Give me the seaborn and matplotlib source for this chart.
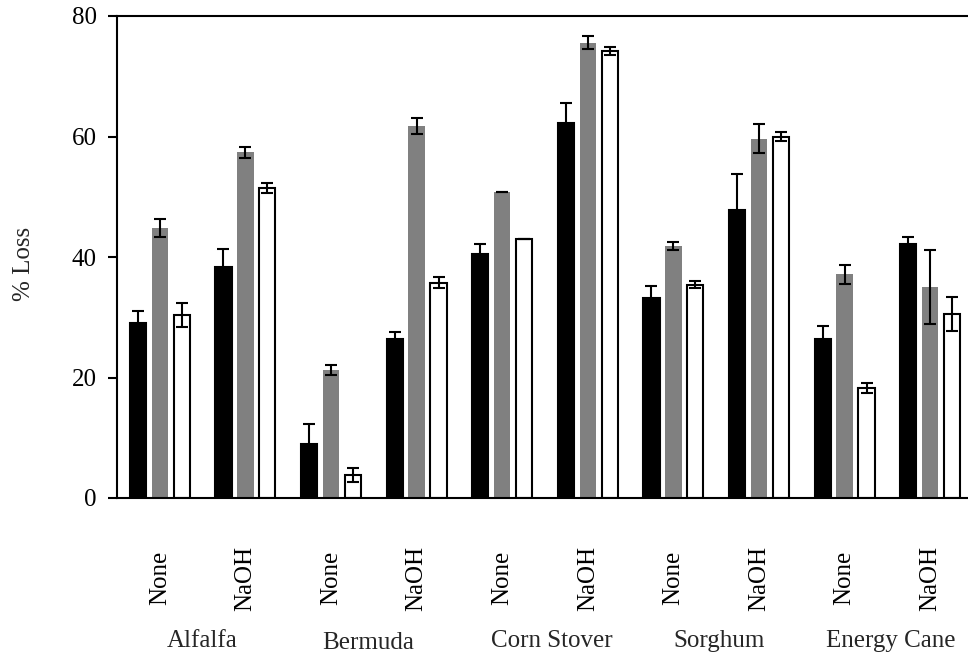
import matplotlib
matplotlib.use("Agg")
import matplotlib.pyplot as plt
import matplotlib.transforms as mtransforms
import pandas as pd
import seaborn as sns

# Feedstocks and pretreatments along the x axis
crops = ["Alfalfa", "Bermuda", "Corn Stover", "Sorghum", "Energy Cane"]
treatments = ["None", "NaOH"]
series = ["Series 1", "Series 2", "Series 3"]
series_colors = ["#000000", "#808080", "#ffffff"]

# % loss per crop/pretreatment, ordered Alfalfa None, Alfalfa NaOH, Bermuda None, ...
loss_s1 = [29.0, 38.4, 9.0, 26.4, 40.5, 62.2, 33.2, 47.8, 26.4, 42.2]
err_s1 = [2.0, 2.9, 3.3, 1.2, 1.6, 3.3, 2.0, 5.9, 2.1, 1.1]
loss_s2 = [44.8, 57.4, 21.2, 61.7, 50.8, 75.6, 41.8, 59.6, 37.1, 35.0]
err_s2 = [1.5, 0.9, 0.8, 1.3, 0.0, 1.1, 0.7, 2.4, 1.6, 6.2]
loss_s3 = [30.3, 51.5, 3.8, 35.7, 43.0, 74.2, 35.4, 60.0, 18.3, 30.5]
err_s3 = [2.0, 0.8, 1.2, 0.9, 0.0, 0.7, 0.6, 0.8, 0.8, 2.8]

y_ticks = [0, 20, 40, 60, 80]

# Long-form table for seaborn
keys = [f"{c} | {t}" for c in crops for t in treatments]
rows = []
for name, vals in zip(series, [loss_s1, loss_s2, loss_s3]):
    for k, v in zip(keys, vals):
        rows.append({"key": k, "series": name, "loss": v})
df = pd.DataFrame(rows)

sns.set_style("ticks")
plt.rcParams["font.family"] = ["Liberation Serif", "DejaVu Serif"]
FS = 18

fig = plt.figure(figsize=(9.68, 6.58), dpi=100)
ax = fig.add_axes([117 / 968, 160 / 658, 856 / 968, 482 / 658])

sns.barplot(
    data=df, x="key", y="loss", hue="series",
    order=keys, hue_order=series, palette=series_colors,
    width=0.77, gap=0.26, errorbar=None, saturation=1,
    edgecolor="black", linewidth=1.5, legend=False, ax=ax,
)

# Grey bars have no outline
for p in ax.containers[1]:
    p.set_edgecolor("#808080")
    p.set_linewidth(0)

# Error bars on every bar
for cont, errs in zip(ax.containers, [err_s1, err_s2, err_s3]):
    xs = [p.get_x() + p.get_width() / 2 for p in cont]
    ys = [p.get_height() for p in cont]
    ax.errorbar(xs, ys, yerr=errs, fmt="none", ecolor="black",
                elinewidth=1.5, capsize=4.6, capthick=1.5, zorder=4)

ax.set_xlim(-0.5, len(keys) - 0.5)
ax.set_ylim(0, 80)
ax.set_yticks(y_ticks)
ax.set_yticklabels([str(v) for v in y_ticks], fontsize=FS)
ax.tick_params(axis="y", direction="out", length=6.5, width=1.5, pad=8, colors="black")

ax.set_xticks(range(len(keys)))
ax.set_xticklabels(treatments * len(crops), rotation=90, va="center", fontsize=FS)
ax.tick_params(axis="x", length=0, pad=57.6, colors="black")

ax.set_xlabel("")
ax.set_ylabel("% Loss", fontsize=FS, va="center")
ax.yaxis.set_label_coords(-0.109, 0.485)

# Crop names under each pair of pretreatments (small hand nudges in pixels)
nudges = {"Bermuda": (-6, -2.5), "Corn Stover": (7, 0), "Sorghum": (3, 0), "Energy Cane": (3, 0)}
trans = mtransforms.blended_transform_factory(ax.transData, ax.transAxes)
for i, crop in enumerate(crops):
    dx, dy = nudges.get(crop, (0, 0))
    t = trans + mtransforms.ScaledTranslation(dx / 100, dy / 100, fig.dpi_scale_trans)
    ax.text(2 * i + 0.5, -0.309, crop, ha="center", va="baseline",
            fontsize=FS, transform=t)

for side in ["left", "bottom", "top"]:
    ax.spines[side].set_linewidth(1.5)
    ax.spines[side].set_color("black")
ax.spines["right"].set_visible(False)

fig.savefig("out.png", dpi=100)
